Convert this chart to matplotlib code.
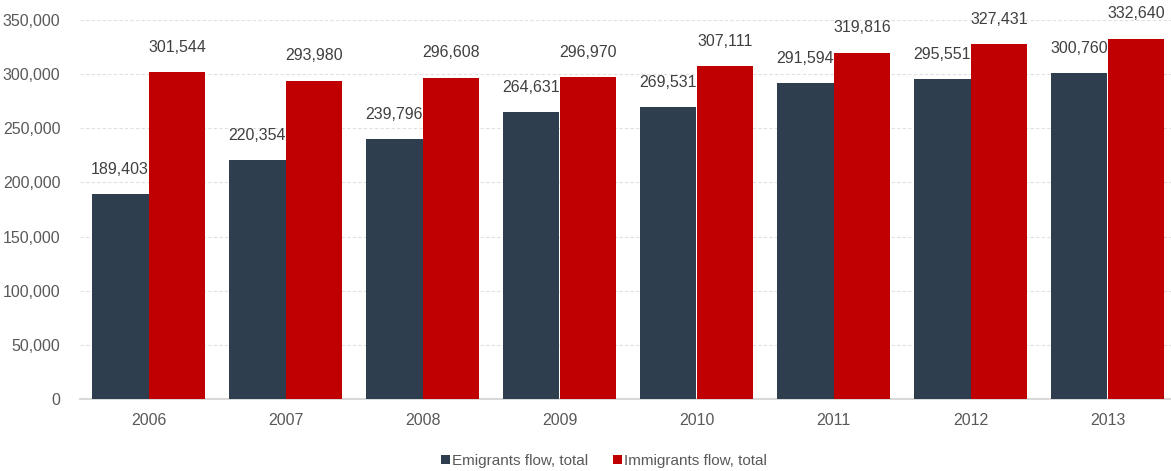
import matplotlib
matplotlib.use("Agg")
import matplotlib.pyplot as plt
import numpy as np

years = ["2006", "2007", "2008", "2009", "2010", "2011", "2012", "2013"]
emigrants = [189403, 220354, 239796, 264631, 269531, 291594, 295551, 300760]
immigrants = [301544, 293980, 296608, 296970, 307111, 319816, 327431, 332640]
series_names = ["Emigrants flow, total", "Immigrants flow, total"]

plt.rcParams['font.family'] = ['Liberation Sans', 'DejaVu Sans']
W, H = 1171, 471
fig = plt.figure(figsize=(W/100, H/100), dpi=100)
ax = fig.add_axes([80/W, 72/H, (1176-80)/W, (399-20)/H])

x = np.arange(len(years))
bw = 0.416
c_em = "#2E3E4F"
c_im = "#C00000"
b1 = ax.bar(x - bw/2, emigrants, bw, color=c_em, label=series_names[0], zorder=3, linewidth=0)
b2 = ax.bar(x + bw/2, immigrants, bw, color=c_im, label=series_names[1], zorder=3, linewidth=0)

for rects, vals in ((b1, emigrants), (b2, immigrants)):
    for rect, v in zip(rects, vals):
        ax.annotate(f"{v:,}", (rect.get_x() + rect.get_width()/2, v), xytext=(0, 12.5),
                    textcoords="offset points", ha="center", va="bottom",
                    fontsize=11.5, color="#404040", annotation_clip=False)

ax.set_ylim(0, 350000)
ax.set_xlim(-0.5, 7.5)
ax.set_yticks(np.arange(0, 350001, 50000))
ax.yaxis.set_major_formatter(matplotlib.ticker.FuncFormatter(lambda v, p: f"{int(v):,}"))
ax.set_xticks(x)
ax.set_xticklabels(years)
ax.tick_params(axis='both', length=0, labelsize=11.5, labelcolor="#595959")
ax.tick_params(axis='y', pad=14)
ax.tick_params(axis='x', pad=10)
ax.grid(axis='y', color="#E0E0E0", linestyle=(0, (3, 2)), linewidth=0.8, zorder=0)
for s in ["top", "right", "left"]:
    ax.spines[s].set_visible(False)
ax.spines["bottom"].set_color("#D9D9D9")
ax.spines["bottom"].set_linewidth(1.5)

fig.legend(handles=[b1, b2], labels=series_names, loc="center", bbox_to_anchor=(604/W, 1 - 461/H),
           ncol=2, frameon=False, fontsize=11, handlelength=0.6, handleheight=0.6,
           handletextpad=0.15, columnspacing=1.6, labelcolor="#595959")

fig.savefig("out.png", dpi=100)
